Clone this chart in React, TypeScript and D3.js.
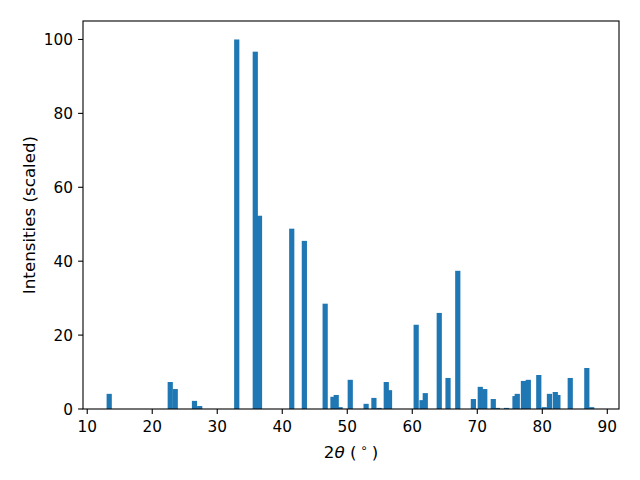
import React from "react";
import * as d3 from "d3";

const positions = [13.38, 22.77, 23.54, 26.5, 27.3, 33.0, 35.85, 36.5, 41.46, 43.4, 46.6, 47.8, 48.3, 48.9, 50.46, 52.9, 54.1, 54.9, 56.0, 56.5, 60.6, 61.5, 62.0, 64.15, 65.5, 67.0, 69.4, 70.46, 71.15, 72.46, 73.1, 74.5, 75.8, 76.15, 77.1, 77.85, 79.46, 80.3, 81.1, 82.0, 82.4, 84.3, 86.85, 87.6];
const intensities = [4.1, 7.3, 5.4, 2.2, 0.8, 100, 96.7, 52.3, 48.8, 45.5, 28.5, 3.3, 3.8, 0.5, 7.9, 1.4, 3.0, 0.3, 7.3, 5.1, 22.8, 2.4, 4.3, 26.0, 8.4, 37.4, 2.7, 6.0, 5.4, 2.7, 0.3, 0.3, 3.5, 4.1, 7.6, 7.9, 9.2, 0.5, 4.1, 4.6, 3.8, 8.4, 11.1, 0.5];
const xTicks = [10, 20, 30, 40, 50, 60, 70, 80, 90];
const yTicks = [0, 20, 40, 60, 80, 100];
const barWidth = 0.8;

export default function App() {
  const left = 83, right = 619, top = 21, bottom = 409;
  const x = d3.scaleLinear().domain([9.35, 91.8]).range([left, right]);
  const y = d3.scaleLinear().domain([0, 105]).range([bottom, top]);
  const font = "DejaVu Sans, sans-serif";
  const fs = 15.3;
  const lfs = 16.7;
  return (
    <svg width={640} height={480} style={{ position: "absolute", left: 0, top: 0, background: "#fff" }} fontFamily={font}>
      <rect x={0} y={0} width={640} height={480} fill="#fff" />
      {positions.map((p, i) => (
        <rect key={i} x={x(p - barWidth / 2)} y={y(intensities[i])} width={x(p + barWidth / 2) - x(p - barWidth / 2)} height={y(0) - y(intensities[i])} fill="#1f77b4" />
      ))}
      <rect x={left} y={top} width={right - left} height={bottom - top} fill="none" stroke="#000" strokeWidth={1.1} />
      {xTicks.map((t) => (
        <g key={t}>
          <line x1={x(t)} x2={x(t)} y1={bottom} y2={bottom + 4.9} stroke="#000" strokeWidth={1.1} />
          <text x={x(t)} y={427} textAnchor="middle" dominantBaseline="central" fontSize={fs} fill="#000">{t}</text>
        </g>
      ))}
      {yTicks.map((t) => (
        <g key={t}>
          <line x1={left - 4.9} x2={left} y1={y(t)} y2={y(t)} stroke="#000" strokeWidth={1.1} />
          <text x={73} y={y(t) + 0.5} textAnchor="end" dominantBaseline="central" fontSize={fs} fill="#000">{t}</text>
        </g>
      ))}
      <text x={(left + right) / 2} y={458} textAnchor="middle" fontSize={lfs} fill="#000">
        2<tspan fontStyle="italic">θ</tspan> (<tspan dy={-6} fontSize={12}> ∘ </tspan><tspan dy={6}>)</tspan>
      </text>
      <text transform={`translate(35, ${(top + bottom) / 2}) rotate(-90)`} textAnchor="middle" fontSize={lfs} fill="#000">Intensities (scaled)</text>
    </svg>
  );
}
